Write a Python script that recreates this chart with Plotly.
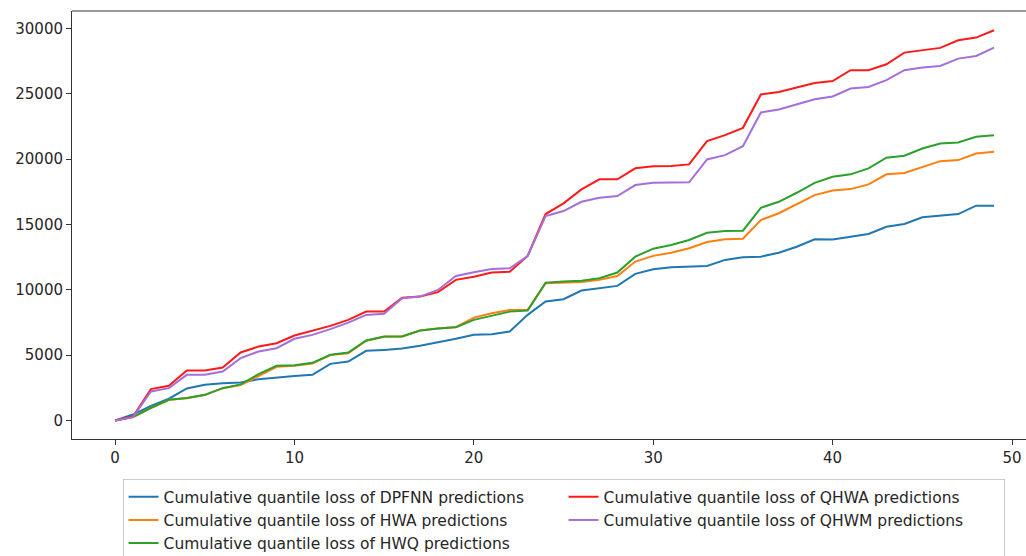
import plotly.graph_objects as go

x_steps = list(range(50))

dpfnn = [0, 450, 1120, 1660, 2450, 2730, 2850, 2900, 3160, 3300,
         3400, 3490, 4330, 4510, 5330, 5400, 5500, 5710, 5960, 6250,
         6550, 6600, 6800, 8080, 9100, 9280, 9940, 10120, 10300, 11220,
         11570, 11730, 11780, 11830, 12290, 12490, 12540, 12840, 13300, 13870,
         13850, 14070, 14270, 14830, 15040, 15550, 15650, 15800, 16440, 16440]

hwa = [0, 250, 950, 1580, 1700, 1950, 2470, 2700, 3400, 4100,
       4180, 4350, 5000, 5150, 6100, 6400, 6420, 6880, 7030, 7150,
       7870, 8210, 8460, 8460, 10500, 10550, 10600, 10760, 11060, 12160,
       12600, 12840, 13180, 13660, 13870, 13910, 15340, 15860, 16570, 17250,
       17600, 17710, 18070, 18840, 18940, 19420, 19850, 19930, 20440, 20570]

hwq = [0, 260, 970, 1580, 1710, 1960, 2470, 2760, 3550, 4180,
       4220, 4410, 5030, 5200, 6120, 6420, 6430, 6880, 7030, 7140,
       7700, 8030, 8330, 8410, 10550, 10630, 10700, 10890, 11320, 12540,
       13150, 13430, 13810, 14370, 14500, 14530, 16280, 16740, 17430, 18190,
       18650, 18840, 19300, 20110, 20260, 20820, 21200, 21280, 21710, 21840]

qhwa = [0, 300, 2400, 2650, 3820, 3820, 4050, 5200, 5660, 5910,
        6500, 6880, 7240, 7700, 8330, 8330, 9400, 9480, 9820, 10760,
        11000, 11320, 11390, 12590, 15800, 16620, 17690, 18460, 18460, 19300,
        19450, 19470, 19600, 21380, 21840, 22400, 24950, 25150, 25490, 25840,
        25980, 26810, 26810, 27270, 28160, 28340, 28520, 29100, 29310, 29870]

qhwm = [0, 250, 2220, 2470, 3490, 3490, 3750, 4770, 5280, 5530,
        6250, 6550, 6990, 7490, 8080, 8160, 9360, 9480, 9990, 11060,
        11350, 11600, 11650, 12590, 15650, 16030, 16740, 17050, 17180, 18020,
        18200, 18230, 18230, 19980, 20310, 21000, 23580, 23800, 24210, 24590,
        24800, 25410, 25530, 26050, 26810, 27020, 27140, 27700, 27900, 28540]

series_names = [
    "Cumulative quantile loss of DPFNN predictions",
    "Cumulative quantile loss of HWA predictions",
    "Cumulative quantile loss of HWQ predictions",
    "Cumulative quantile loss of QHWA predictions",
    "Cumulative quantile loss of QHWM predictions",
]
series_values = [dpfnn, hwa, hwq, qhwa, qhwm]
colors = ["#1f77b4", "#ff7f0e", "#2ca02c", "#ff1a1a", "#a56fd8"]
legend_ranks = [1, 3, 5, 2, 4]

x_ticks = [0, 10, 20, 30, 40, 50]
y_ticks = [0, 5000, 10000, 15000, 20000, 25000, 30000]

fig = go.Figure()
for name, vals, col, rk in zip(series_names, series_values, colors, legend_ranks):
    fig.add_trace(go.Scatter(
        x=x_steps, y=vals, mode="lines", name=name,
        line=dict(color=col, width=2), legendrank=rk,
    ))

font_family = "DejaVu Sans, Liberation Sans, sans-serif"
axis_color = "#333333"

fig.update_layout(
    width=1026, height=556,
    margin=dict(l=72, r=0, t=11, b=117, autoexpand=False),
    paper_bgcolor="white", plot_bgcolor="white",
    font=dict(family=font_family, size=15, color="#262626"),
    showlegend=True,
    legend=dict(
        orientation="h", x=0.053, y=-0.094, xanchor="left", yanchor="top",
        entrywidth=395, entrywidthmode="pixels",
        bordercolor="#cccccc", borderwidth=1, bgcolor="white",
        font=dict(family=font_family, size=15.5, color="#262626"),
        traceorder="normal",
    ),
    xaxis=dict(
        range=[-2.40, 50.78], tickvals=x_ticks, showgrid=False, zeroline=False,
        showline=True, linecolor=axis_color, linewidth=1,
        ticks="outside", ticklen=5, tickcolor=axis_color,
        tickfont=dict(size=15),
    ),
    yaxis=dict(
        range=[-1422, 31345], tickvals=y_ticks, tickformat="d",
        showgrid=False, zeroline=False,
        showline=True, linecolor=axis_color, linewidth=1,
        ticks="outside", ticklen=5, tickcolor=axis_color,
        tickfont=dict(size=15),
    ),
    shapes=[dict(type="line", xref="paper", yref="paper", x0=0, x1=1, y0=1, y1=1,
                 line=dict(color=axis_color, width=1))],
)

fig.write_html("out.html")
